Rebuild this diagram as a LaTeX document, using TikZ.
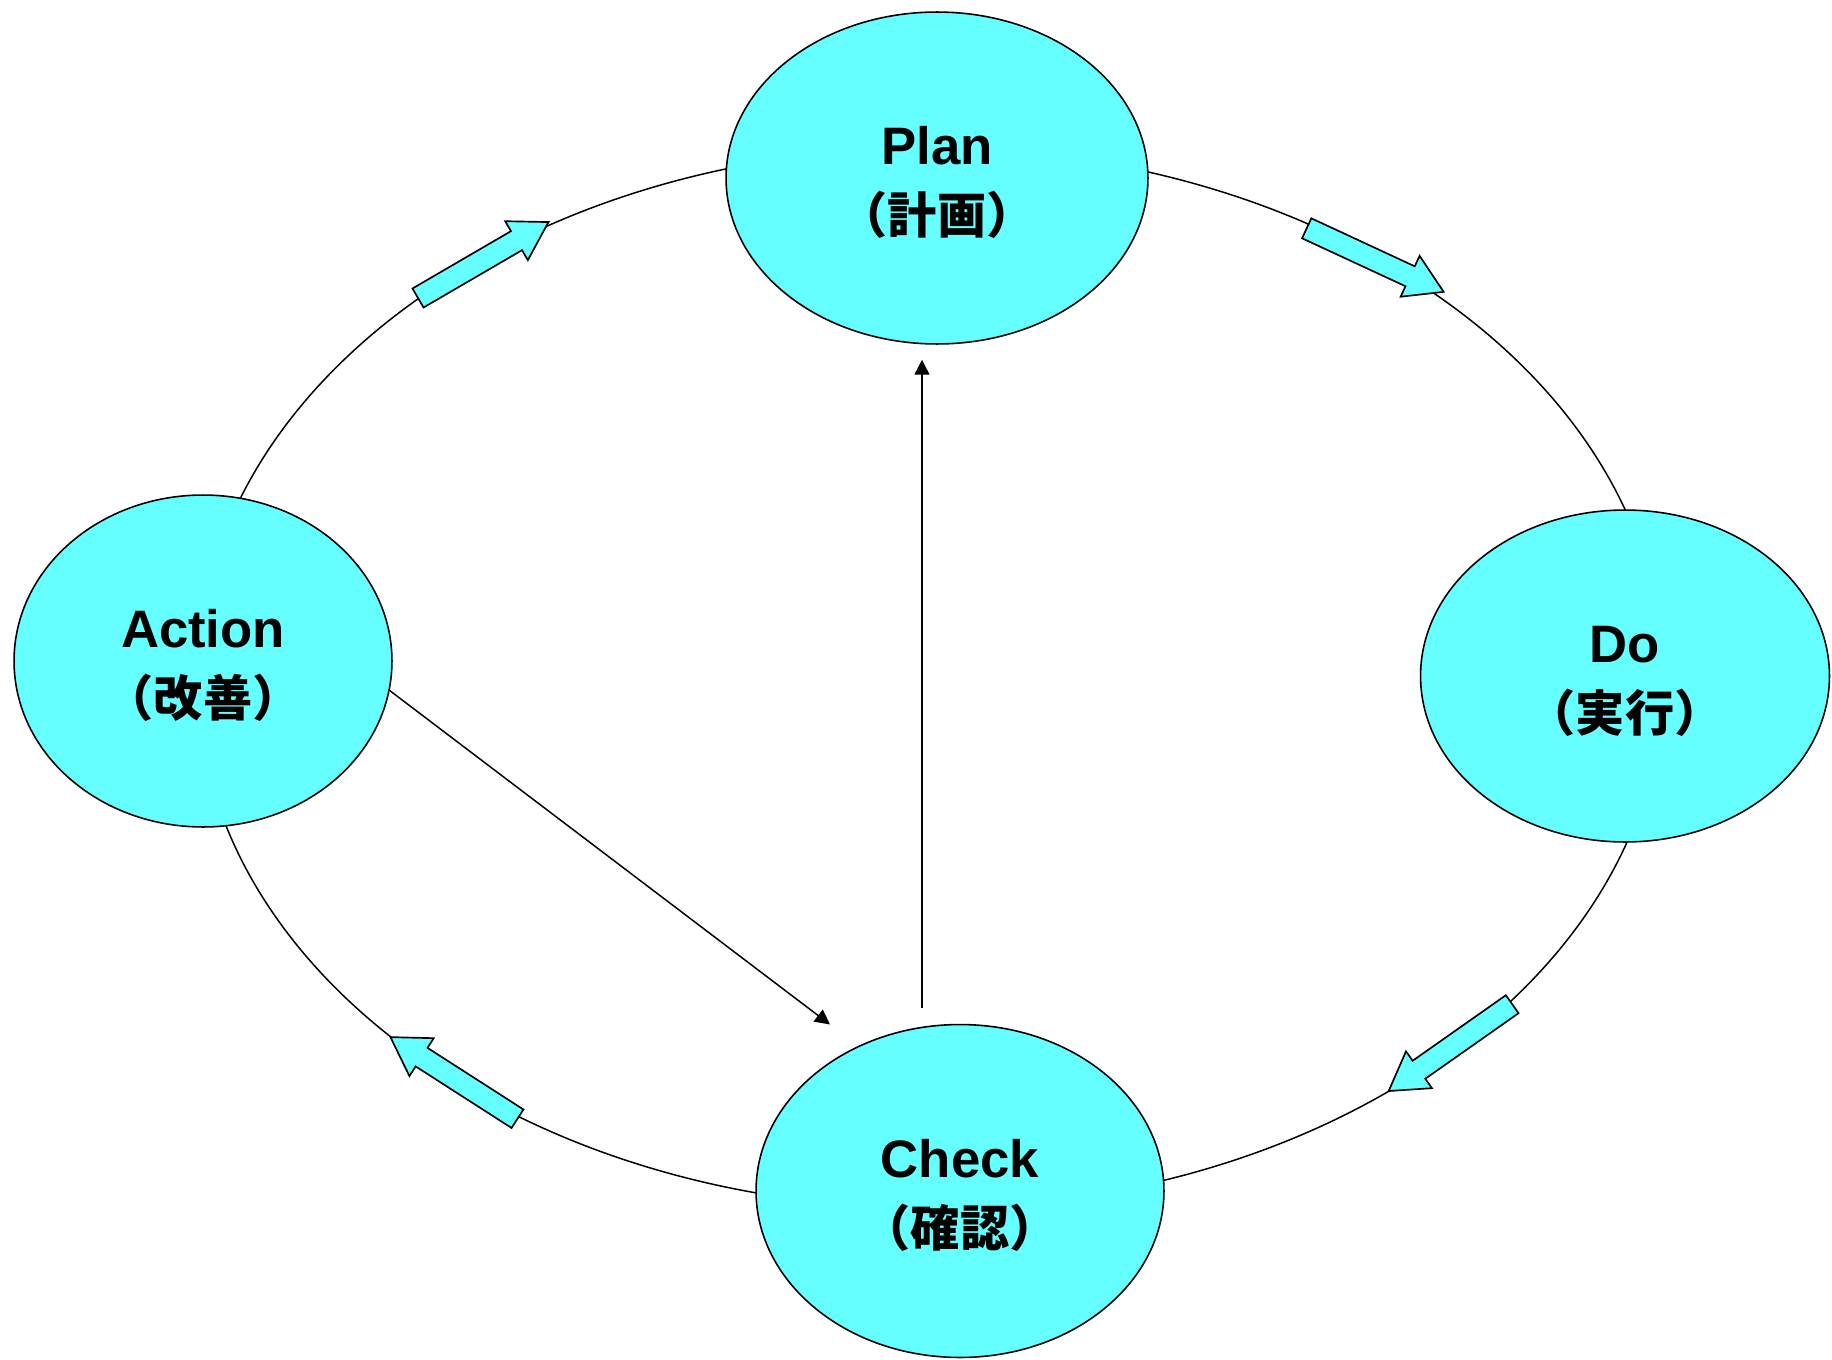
\documentclass[tikz,border=0pt]{standalone}
\usepackage{fontspec}
\setmainfont{Liberation Sans}
\newfontfamily\cjk{Noto Sans CJK JP}
\usetikzlibrary{shapes.geometric,arrows.meta,calc}

\definecolor{stagecyan}{RGB}{102,255,255}

\tikzset{
  stage/.style={ellipse, draw, line width=0.9pt, fill=stagecyan, inner sep=0pt,
    align=center, font=\fontsize{30}{39}\selectfont\bfseries},
  loopline/.style={line width=0.85pt},
  link/.style={line width=0.85pt, -{Triangle[length=8.5pt,width=8.5pt]}},
  flowarrow/.style={draw, line width=0.95pt, fill=stagecyan, line join=miter},
  flow/.pic={
    \path[flowarrow] (0,-11) -- (114,-11) -- (114,-22.5) -- (151,0)
      -- (114,22.5) -- (114,11) -- (0,11) -- cycle;
  }
}

% two-line stage label: English name over the Japanese term
\newcommand\stagetext[2]{\rule{0pt}{27pt}#1\\{\cjk\bfseries\fontsize{28}{39}\selectfont #2}}

\begin{document}
\begin{tikzpicture}[x=0.02cm, y=0.02cm]
  \useasboundingbox (0,0) rectangle (1832,-1359);

  % the cycle line running through all four stages
  \node[loopline, draw, ellipse, inner sep=0pt,
        minimum width=29.32cm, minimum height=21.2cm] (cycle) at (930,-678) {};

  % the four stages
  \node[stage, minimum width=8.44cm, minimum height=6.64cm] (plan) at (937,-178)
    {\stagetext{Plan}{（計画）}};
  \node[stage, minimum width=8.18cm, minimum height=6.64cm] (do) at (1625,-676)
    {\stagetext{Do}{（実行）}};
  \node[stage, minimum width=8.16cm, minimum height=6.66cm] (check) at (960,-1191)
    {\stagetext{Check}{（確認）}};
  \node[stage, minimum width=7.56cm, minimum height=6.64cm] (action) at (203,-661)
    {\stagetext{Action}{（改善）}};

  % direction markers on the cycle
  \pic[rotate=30.2]  at (418,-298)     {flow};
  \pic[rotate=-24.9] at (1306.7,-228.3) {flow};
  \pic[rotate=215.1] at (1512.2,-1004.2) {flow};
  \pic[rotate=147.3] at (517.5,-1118.7) {flow};

  % shortcuts across the cycle
  \draw[link] ($(check.north)+(-38,16)$) -- ($(plan.south)+(-15,-15)$);
  \draw[link] (action.-9.5) -- ($(check.center)+(-130,166.5)$);
\end{tikzpicture}
\end{document}
